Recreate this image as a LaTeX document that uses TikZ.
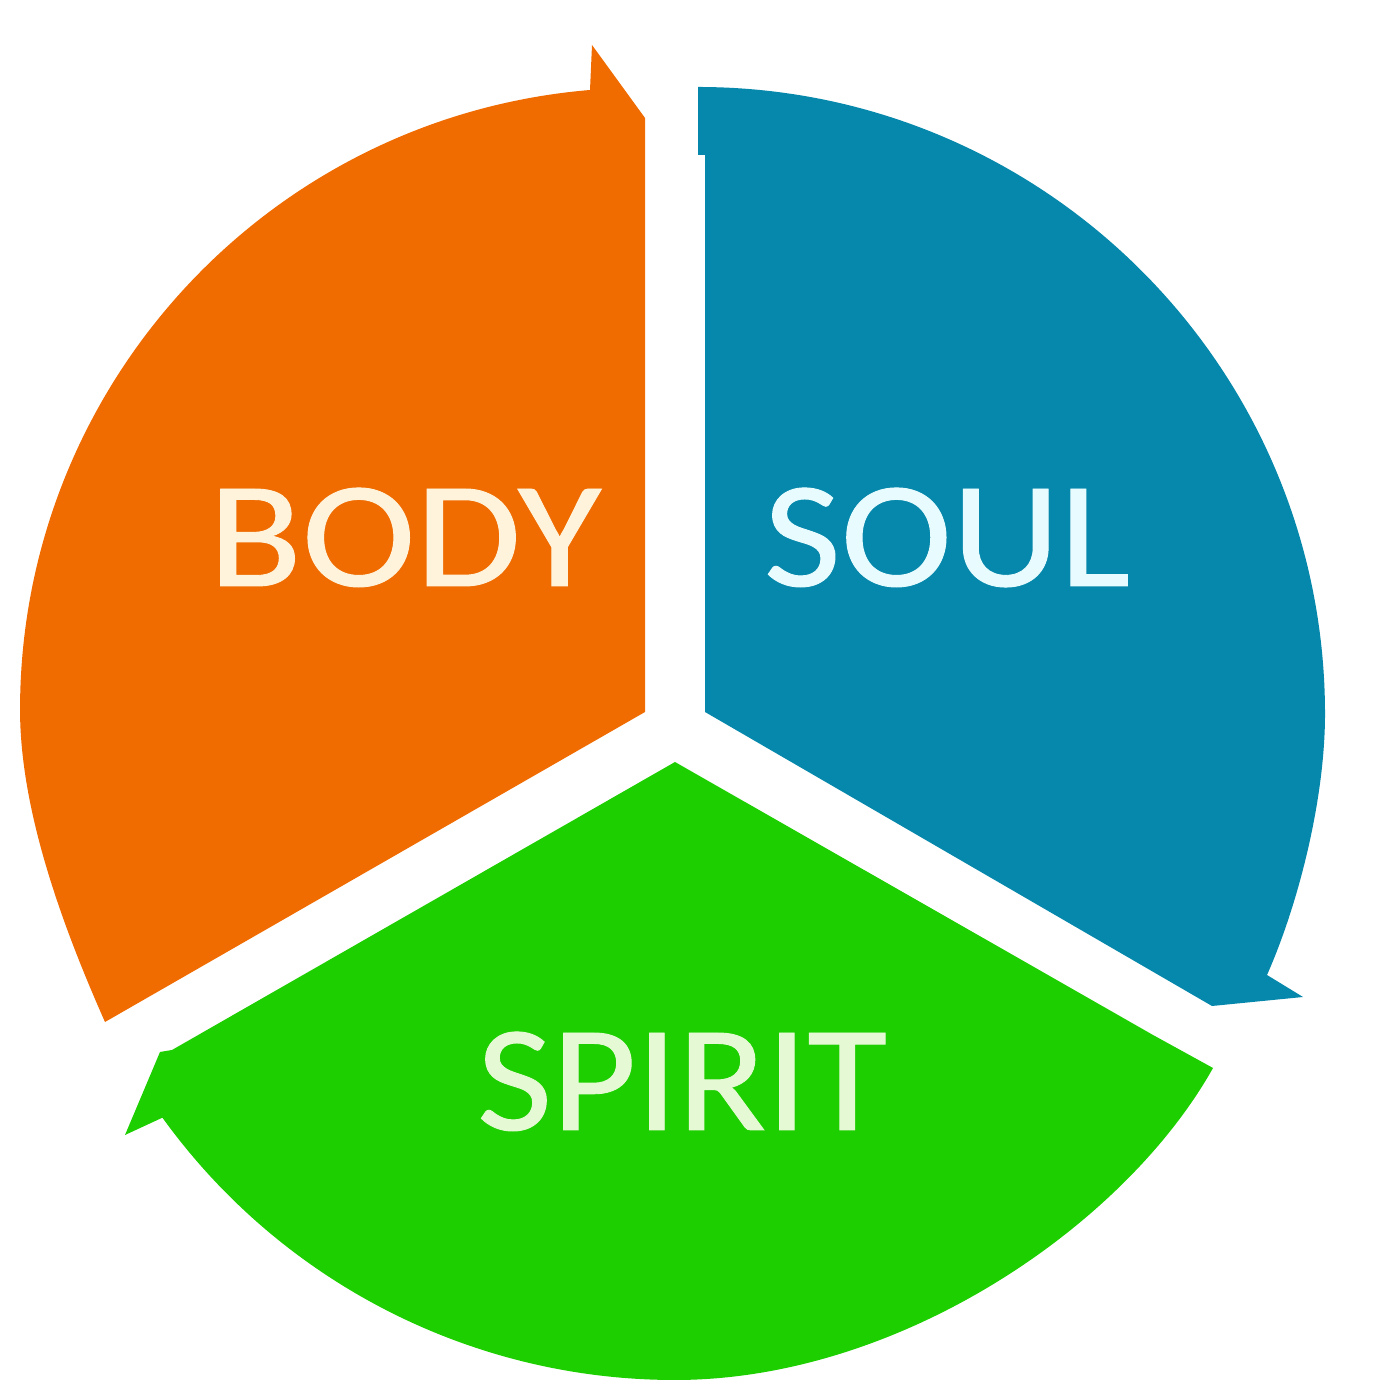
\documentclass[tikz,border=0pt]{standalone}
\usepackage{fontspec}
\usepackage{graphicx}
\setmainfont{Carlito}
\definecolor{orng}{HTML}{F06C00}
\definecolor{blu}{HTML}{0588AB}
\definecolor{grn}{HTML}{1ECF00}
\definecolor{bodytxt}{HTML}{FFF3DC}
\definecolor{soultxt}{HTML}{E8FBFF}
\definecolor{spirittxt}{HTML}{E4F9D4}
\tikzset{lbl/.style={font=\fontsize{43}{50}\selectfont\addfontfeatures{FakeBold=0.6},inner sep=0pt,anchor=base}}
\begin{document}
\begin{tikzpicture}[x=0.01cm,y=0.01cm]
\useasboundingbox (0,0) rectangle (1400,1400);
\fill[white] (0,0) rectangle (1400,1400);
% orange
\fill[orng] (645,1282) -- (592,1355) -- (590,1310)
  arc[start angle=94.8,end angle=180,radius=622]
  .. controls (20,590) and (62,475) .. (105,378)
  -- (645,688) -- cycle;
% blue
\fill[blu] (698,1313)
  arc[start angle=90,end angle=0,radius=627]
  .. controls (1325,600) and (1298,495) .. (1267,425)
  -- (1303,403) -- (1212,394) -- (705,688) -- (705,1245) -- (698,1245) -- cycle;
% green
\fill[grn] (675,638) -- (1153,365) -- (1213,332)
  .. controls (1125,175) and (900,20) .. (675,20)
  arc[start angle=270,end angle=215.8,radius=632]
  -- (125,265) -- (160,348) -- (172,350) -- cycle;
\node[lbl,text=bodytxt] (bodyl) at (405,814) {\scalebox{1.135}[1]{BODY}};
\node[lbl,text=soultxt] (soull) at (947,814) {\scalebox{1.11}[1]{SOUL}};
\node[lbl,text=spirittxt] (spiritl) at (682,270) {\scalebox{1.08}[1]{SPIRIT}};
\end{tikzpicture}
\end{document}
